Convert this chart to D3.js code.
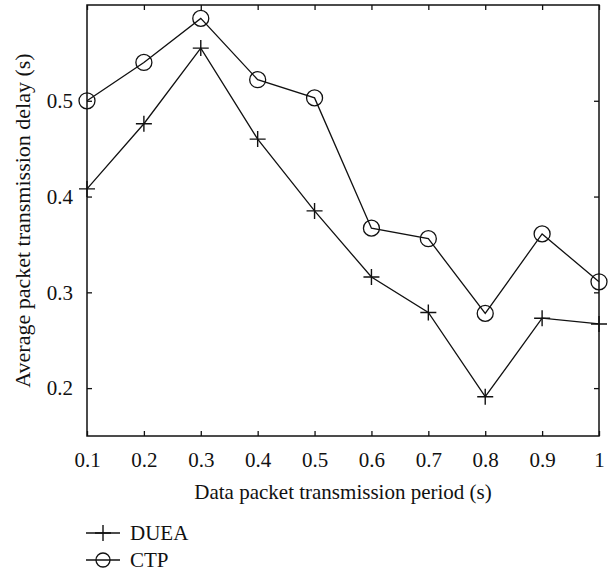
<!DOCTYPE html>
<html>
<head>
<meta charset="utf-8">
<script src="https://cdn.jsdelivr.net/npm/d3@7"></script>
<style>
  body { margin: 0; background: #fff; }
  text { font-family: "Liberation Serif", "DejaVu Serif", serif; fill: #111; }
</style>
</head>
<body>
<div id="graphContainer"></div>
<script>
// data
var periods = [0.1, 0.2, 0.3, 0.4, 0.5, 0.6, 0.7, 0.8, 0.9, 1.0];
var dueaDelay = [0.408, 0.476, 0.555, 0.460, 0.385, 0.316, 0.279, 0.191, 0.273, 0.267];
var ctpDelay = [0.500, 0.540, 0.586, 0.522, 0.503, 0.367, 0.356, 0.278, 0.361, 0.311];
var xTicks = [0.1, 0.2, 0.3, 0.4, 0.5, 0.6, 0.7, 0.8, 0.9, 1];
var yTicks = [0.2, 0.3, 0.4, 0.5];

var width = 610, height = 574;
var margin = {top: 5, left: 87, right: 11, bottom: 138};
var chartWidth = width - margin.left - margin.right,
    chartHeight = height - margin.top - margin.bottom;
var fontSize = "21px";

var svg = d3.select("#graphContainer").append("svg")
    .attr("width", width).attr("height", height);

var x = d3.scaleLinear().domain([0.1, 1]).range([0, chartWidth]);
var y = d3.scaleLinear().domain([0.15, 0.6]).range([chartHeight, 0]);

var chartLayer = svg.append("g")
    .attr("transform", "translate(" + [margin.left, margin.top] + ")");

//ticks point inwards on all four sides
var fmt = function (d) { return d === 1 ? "1" : d3.format(".1f")(d); };

function styleAxis(g) {
    g.select(".domain").remove();
    g.selectAll(".tick line").attr("stroke", "#111").attr("stroke-width", 1.3);
    g.selectAll(".tick text").style("font-size", fontSize);
}

chartLayer.append("g")
    .attr("transform", "translate(0," + chartHeight + ")")
    .call(d3.axisBottom(x).tickValues(xTicks).tickFormat(fmt).tickSizeInner(-5).tickPadding(16))
    .call(styleAxis);

chartLayer.append("g")
    .call(d3.axisTop(x).tickValues(xTicks).tickFormat("").tickSizeInner(-5))
    .call(styleAxis);

chartLayer.append("g")
    .call(d3.axisLeft(y).tickValues(yTicks).tickFormat(fmt).tickSizeInner(-5).tickPadding(14))
    .call(styleAxis);

chartLayer.append("g")
    .attr("transform", "translate(" + chartWidth + ",0)")
    .call(d3.axisRight(y).tickValues(yTicks).tickFormat("").tickSizeInner(-5))
    .call(styleAxis);

chartLayer.append("rect")
    .attr("width", chartWidth).attr("height", chartHeight)
    .attr("fill", "none").attr("stroke", "#111").attr("stroke-width", 1.5);

//axis titles
svg.append("text")
    .attr("x", margin.left + chartWidth / 2).attr("y", 499)
    .attr("text-anchor", "middle").style("font-size", fontSize)
    .text("Data packet transmission period (s)");

svg.append("text")
    .attr("transform", "translate(30," + (margin.top + chartHeight / 2) + ") rotate(-90)")
    .attr("text-anchor", "middle").style("font-size", "22px")
    .text("Average packet transmission delay (s)");

var line = d3.line()
    .x(function (d) { return x(d[0]); })
    .y(function (d) { return y(d[1]); });

var series = [
    {name: "DUEA", values: d3.zip(periods, dueaDelay), marker: "plus"},
    {name: "CTP", values: d3.zip(periods, ctpDelay), marker: "circle"}
];

function drawMarker(sel, kind, size) {
    if (kind === "plus") {
        sel.append("path").attr("d", "M-" + size + ",0H" + size + "M0,-" + size + "V" + size)
            .attr("stroke", "#111").attr("stroke-width", 1.4).attr("fill", "none");
    } else {
        sel.append("circle").attr("r", size)
            .attr("stroke", "#111").attr("stroke-width", 1.3).attr("fill", "none");
    }
}

series.forEach(function (s) {
    chartLayer.append("path")
        .datum(s.values)
        .attr("d", line)
        .attr("fill", "none").attr("stroke", "#111").attr("stroke-width", 1.3);

    chartLayer.selectAll(".m-" + s.marker)
        .data(s.values)
        .enter().append("g")
        .attr("class", "m-" + s.marker)
        .attr("transform", function (d) { return "translate(" + x(d[0]) + "," + y(d[1]) + ")"; })
        .each(function () { drawMarker(d3.select(this), s.marker, 8); });
});

//legend below the chart
var legend = svg.append("g").attr("transform", "translate(86,533)");
series.forEach(function (s, i) {
    var row = legend.append("g").attr("transform", "translate(0," + (i * 27) + ")");
    row.append("line").attr("x1", 0).attr("x2", 34)
        .attr("stroke", "#111").attr("stroke-width", 1.3);
    drawMarker(row.append("g").attr("transform", "translate(17,0)"), s.marker, s.marker === "plus" ? 8 : 7);
    row.append("text").attr("x", 44).attr("y", 7).style("font-size", fontSize).text(s.name);
});
</script>
</body>
</html>
